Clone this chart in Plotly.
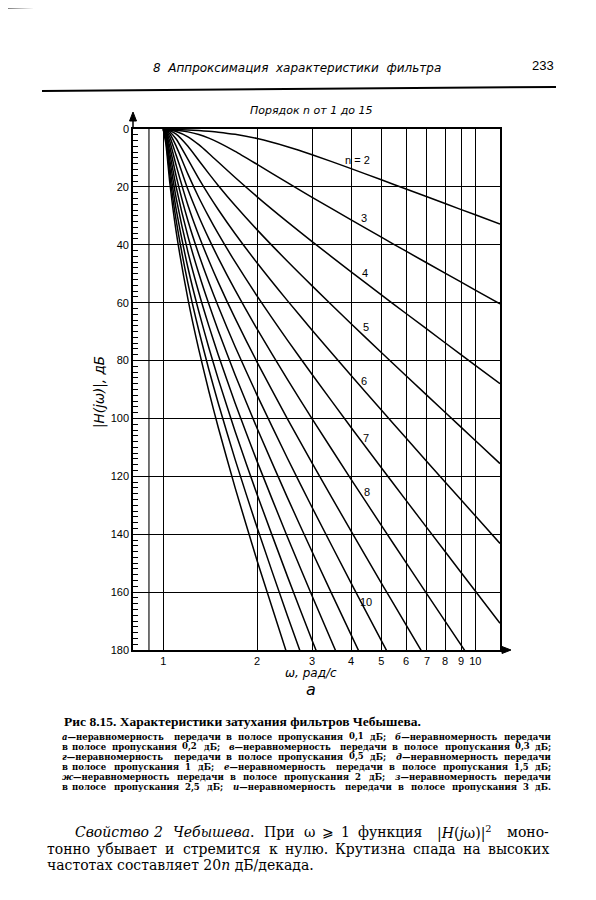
import math
import re
import plotly.graph_objects as go

# ---- data (attenuation, dB, Chebyshev 0.1 dB ripple) ----
omega = [1, 1.02, 1.05, 1.1, 1.2, 1.3, 1.4, 1.5, 1.7, 2, 2.5, 3, 4, 5, 6, 8, 10, 12]

att_n2 = [0.10, 0.12, 0.14, 0.20, 0.34, 0.54, 0.79, 1.09, 1.85, 3.31, 6.11, 8.88, 13.69, 17.55, 20.73, 25.76, 29.65, 32.83]
att_n3 = [0.10, 0.14, 0.22, 0.40, 0.99, 1.92, 3.16, 4.60, 7.73, 12.24, 18.54, 23.60, 31.42, 37.39, 42.22, 49.80, 55.65, 60.42]
att_n4 = [0.10, 0.18, 0.35, 0.84, 2.69, 5.42, 8.45, 11.42, 16.77, 23.43, 32.09, 38.90, 49.34, 57.30, 63.74, 73.84, 81.65, 88.01]
att_n5 = [0.10, 0.23, 0.60, 1.78, 5.97, 10.88, 15.43, 19.50, 26.45, 34.85, 45.70, 54.20, 67.26, 77.21, 85.27, 97.86, 107.64, 115.60]
att_n6 = [0.10, 0.32, 1.04, 3.45, 10.50, 17.15, 22.86, 27.80, 36.18, 46.29, 59.30, 69.51, 85.18, 97.12, 106.78, 121.94, 133.64, 143.20]
att_n7 = [0.10, 0.44, 1.74, 5.93, 15.60, 23.66, 30.36, 36.17, 45.94, 57.72, 72.92, 84.82, 103.11, 117.03, 128.31, 145.99, 159.64, 170.77]
att_n8 = [0.10, 0.62, 2.83, 9.06, 20.94, 30.21, 37.89, 44.52, 55.70, 69.16, 86.52, 100.14, 121.03, 136.94, 149.83, 170.04, 185.60]
att_n9 = [0.10, 0.88, 4.33, 12.58, 26.33, 36.78, 45.43, 52.89, 65.45, 80.60, 100.13, 115.44, 138.95, 156.86, 171.35, 194.10]
att_n10 = [0.10, 1.23, 6.21, 16.28, 31.71, 43.35, 52.96, 61.24, 75.21, 92.04, 113.74, 130.76, 156.87, 176.76, 192.88]
att_n11 = [0.10, 1.71, 8.43, 20.08, 37.11, 49.92, 60.49, 69.60, 84.96, 103.48, 127.35, 146.07, 174.79, 196.70]
att_n12 = [0.10, 2.34, 10.86, 23.90, 42.53, 56.49, 68.02, 77.96, 94.72, 114.92, 140.96, 161.37, 192.70]
att_n13 = [0.10, 3.13, 13.44, 27.75, 47.93, 63.06, 75.55, 86.32, 104.48, 126.36, 154.56, 176.69, 210.60]
att_n14 = [0.10, 4.10, 16.07, 31.59, 53.34, 69.63, 83.08, 94.68, 114.23, 137.80, 168.18, 192.00]
att_n15 = [0.10, 5.23, 18.75, 35.45, 58.74, 76.20, 90.61, 103.04, 123.99, 149.24, 181.78]

orders = [2, 3, 4, 5, 6, 7, 8, 9, 10, 11, 12, 13, 14, 15]
series = [att_n2, att_n3, att_n4, att_n5, att_n6, att_n7, att_n8, att_n9,
          att_n10, att_n11, att_n12, att_n13, att_n14, att_n15]

x_ticks = [1, 2, 3, 4, 5, 6, 7, 8, 9, 10]
x_ticktext = ["1", "2", "3", "4", "5", "6", "7", "8", "9", "10"]
x_extra_grid = [0.9]
x_range = [0.8, 12]
y_ticks = [0, 20, 40, 60, 80, 100, 120, 140, 160, 180]

curve_labels = ["n = 2", "3", "4", "5", "6", "7", "8", "10"]
curve_label_omega = [4.19, 4.41, 4.44, 4.47, 4.41, 4.47, 4.51, 4.47]
curve_label_db = [10.7, 30.8, 49.8, 68.4, 87.1, 106.8, 125.4, 163.4]

# ---- geometry (screenshot pixels; the page body adds an 8 px offset) ----
OFF = 8
W, H = 596 - OFF, 900 - OFF
L, R, T, B = 133, 500, 129, 650   # plot-area box in screenshot pixels


def px(x):
    return (x - L) / (R - L)


def py(y):
    return (B - y) / (B - T)


fig = go.Figure()
for n, vals in zip(orders, series):
    fig.add_trace(go.Scatter(
        x=omega[:len(vals)], y=vals, mode="lines",
        line=dict(color="black", width=1.5, shape="spline", smoothing=0.6),
        showlegend=False, hoverinfo="skip", name=f"n={n}"))

sans = "Liberation Sans"
serif = "Liberation Serif"
dserif = "DejaVu Serif"

ann = []
for t, xo, yd in zip(curve_labels, curve_label_omega, curve_label_db):
    ann.append(dict(x=math.log10(xo), y=yd, xref="x", yref="y", text=t,
                    showarrow=False, font=dict(family=sans, size=11, color="black")))


def txt(x, y, text, size, family=sans, xanchor="center", angle=0):
    ann.append(dict(xref="paper", yref="paper", x=px(x), y=py(y), text=text,
                    showarrow=False, xanchor=xanchor, yanchor="middle",
                    textangle=angle, font=dict(family=family, size=size, color="black")))


def est_width(word, size, factor):
    s = re.sub(r"<sup>.*?</sup>", "x", word)
    s = re.sub(r"<[^>]+>", "", s)
    w = 0.0
    for ch in s:
        if ch.isdigit():
            w += 0.5
        elif ch in "шщжмюыфШЩЖМЮЫФω":
            w += 0.72
        elif ch.isupper():
            w += 0.68
        elif ch.isalpha():
            w += 0.49
        elif ch == "—":
            w += 1.0
        elif ch in ",.;:|":
            w += 0.27
        else:
            w += 0.4
    return w * size * factor


def justify(words, x0, x1, y, size, family, factor, bold=False):
    widths = [est_width(w, size, factor) for w in words]
    gap = (x1 - x0 - sum(widths)) / (len(words) - 1)
    x = x0
    for i, (w, wd) in enumerate(zip(words, widths)):
        t = "<b>" + w + "</b>" if bold else w
        if i == 0:
            txt(x0, y, t, size, family, "left")
        elif i == len(words) - 1:
            txt(x1, y, t, size, family, "right")
        else:
            txt(x + wd / 2, y, t, size, family, "center")
        x += wd + gap


# page header
txt(297, 68, "<i>8  Аппроксимация  характеристики  фильтра</i>", 12, family="DejaVu Sans")
txt(543, 66, "233", 13, family=sans)
# chart title
txt(311, 110, "<i>Порядок n от 1 до 15</i>", 11, family="DejaVu Sans")
# axis titles
txt(99, 392, "<i>|H(jω)|, дБ</i>", 13.5, family="DejaVu Sans", angle=-90)
txt(311, 673, "<i>ω, рад/с</i>", 12, family="DejaVu Sans")
txt(311, 689, "<i>а</i>", 16, family="DejaVu Sans")

# figure caption
txt(62, 721, "<b>Рис 8.15. Характеристики затухания фильтров Чебышева.</b>", 13.5,
    family=serif, xanchor="left")
cap_lines = [
    "<i>а</i>—неравномерность передачи в полосе пропускания 0,1 дБ; <i>б</i>—неравномерность передачи",
    "в полосе пропускания 0,2 дБ; <i>в</i>—неравномерность передачи в полосе пропускания 0,3 дБ;",
    "<i>г</i>—неравномерность передачи в полосе пропускания 0,5 дБ; <i>д</i>—неравномерность передачи",
    "в полосе пропускания 1 дБ; <i>е</i>—неравномерность передачи в полосе пропускания 1,5 дБ;",
    "<i>ж</i>—неравномерность передачи в полосе пропускания 2 дБ; <i>з</i>—неравномерность передачи",
    "в полосе пропускания 2,5 дБ; <i>и</i>—неравномерность передачи в полосе пропускания 3 дБ.",
]
for i, s in enumerate(cap_lines):
    justify(s.split(" "), 60, 553, 736.5 + i * 10.2, 8.5, dserif, 1.4, bold=True)

# body paragraph (justified like the book page)
para1 = ["<i>Свойство</i>", "<i>2</i>", "<i>Чебышева</i>.", "При", "ω", "⩾", "1",
         "функция", "|<i>H</i>(<i>j</i>ω)|<sup>2</sup>", "моно-"]
para2 = "тонно убывает и стремится к нулю. Крутизна спада на высоких".split(" ")
justify(para1, 73, 551, 832, 14, dserif, 1.25)
justify(para2, 45, 551, 848.5, 14, dserif, 1.25)
txt(45, 865, "частотах составляет 20<i>n</i> дБ/декада.", 14, family=dserif, xanchor="left")

# axis arrows and extra grid line drawn as shapes
aw = 3.5 / (R - L)
lr = [math.log10(v) for v in x_range]
shapes = []
for g in x_extra_grid:
    gx = (math.log10(g) - lr[0]) / (lr[1] - lr[0])
    shapes.append(dict(type="line", xref="paper", yref="paper", x0=gx, y0=0, x1=gx, y1=1,
                       line=dict(color="black", width=1.1), layer="below"))
shapes += [
    dict(type="line", xref="paper", yref="paper", x0=px(42), y0=py(91), x1=px(556), y1=py(87),
         line=dict(color="black", width=2)),
    dict(type="line", xref="paper", yref="paper", x0=px(0), y0=py(8), x1=px(46), y1=py(7),
         line=dict(color="black", width=1.5)),
    dict(type="line", xref="paper", yref="paper", x0=0, y0=1, x1=0, y1=py(118),
         line=dict(color="black", width=1.5)),
    dict(type="path", xref="paper", yref="paper",
         path=f"M {-aw} {py(121)} L 0 {py(112)} L {aw} {py(121)} Z",
         fillcolor="black", line=dict(color="black", width=1)),
    dict(type="line", xref="paper", yref="paper", x0=1, y0=0, x1=px(505), y1=0,
         line=dict(color="black", width=1.5)),
    dict(type="path", xref="paper", yref="paper",
         path=f"M {px(502)} {py(646.5)} L {px(511)} {py(650)} L {px(502)} {py(653.5)} Z",
         fillcolor="black", line=dict(color="black", width=1)),
]

fig.update_layout(
    width=W, height=H,
    margin=dict(l=L - OFF, r=(W + OFF) - R, t=T - OFF, b=(H + OFF) - B, pad=0),
    paper_bgcolor="white", plot_bgcolor="white",
    showlegend=False,
    annotations=ann, shapes=shapes,
    xaxis=dict(type="log", range=lr,
               tickvals=x_ticks, ticktext=x_ticktext, ticks="",
               showgrid=True, gridcolor="black", gridwidth=1.1,
               showline=True, linecolor="black", linewidth=1.6, mirror=True,
               zeroline=False, tickfont=dict(family=sans, size=11, color="black")),
    yaxis=dict(range=[180, 0], tickvals=y_ticks, ticks="inside", ticklen=7,
               tickwidth=1.2, tickcolor="black",
               minor=dict(dtick=2, ticks="inside", ticklen=5, tickwidth=1,
                          tickcolor="black", showgrid=False),
               showgrid=True, gridcolor="black", gridwidth=1.1,
               showline=True, linecolor="black", linewidth=1.6, mirror=True,
               zeroline=False, tickfont=dict(family=sans, size=11, color="black")),
)

fig.write_html("out.html")
